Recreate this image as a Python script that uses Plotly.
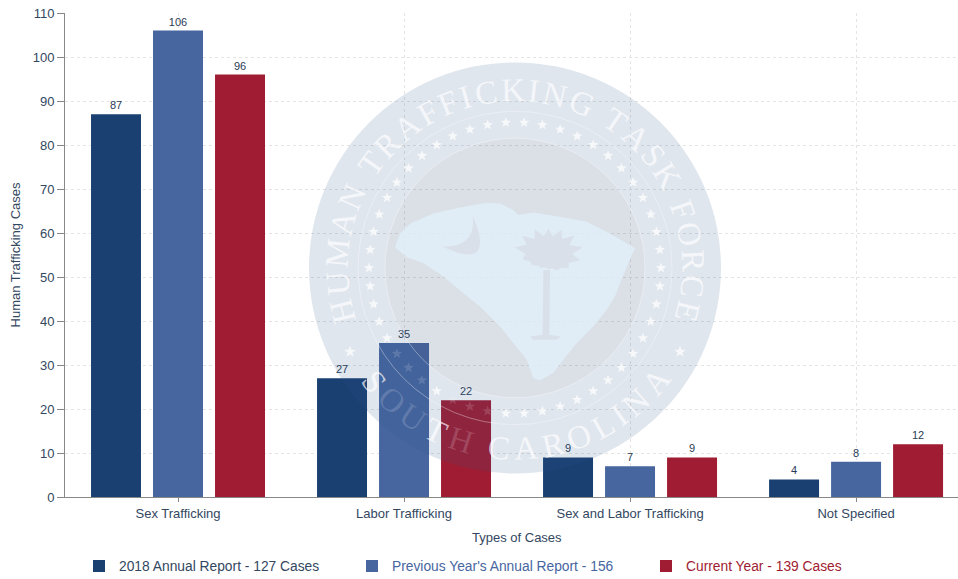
import math
import plotly.graph_objects as go

categories = ["Sex Trafficking", "Labor Trafficking", "Sex and Labor Trafficking", "Not Specified"]
report_2018 = [87, 27, 9, 4]
previous_year = [106, 35, 7, 8]
current_year = [96, 22, 9, 12]
series_names = ["2018 Annual Report - 127 Cases", "Previous Year's Annual Report - 156", "Current Year - 139 Cases"]
series_colors = ["#1a4072", "#47659f", "#a01c32"]
legend_text_colors = ["#33475f", "#47659f", "#a01c32"]
y_ticks = list(range(0, 111, 10))
seal_top = "HUMAN TRAFFICKING TASK FORCE"
seal_bottom = "SOUTH CAROLINA"

TEXT = "#33475f"
FONT = "Liberation Sans, Arial, sans-serif"
L, R, T, B = 65, 958, 12.5, 497.5
CX, CY = 515, 268
LEGEND_PX = [79, 352, 646]


def fx(x):
    return (x - L) / (R - L)


def fy(y):
    return (B - y) / (B - T)


def path_from(points):
    return "M" + "L".join(f"{fx(x):.5f},{fy(y):.5f}" for x, y in points) + "Z"


def zoom_pts(pts):
    return [(300 + x / 3, 50 + y / 3) for x, y in pts]


def circle(r, fill="rgba(0,0,0,0)", line="rgba(0,0,0,0)", w=0):
    return dict(type="circle", xref="paper", yref="paper", layer="above",
                x0=fx(CX - r), x1=fx(CX + r), y0=fy(CY + r), y1=fy(CY - r),
                fillcolor=fill, line=dict(color=line, width=w))


def poly(points, fill):
    return dict(type="path", xref="paper", yref="paper", layer="above",
                path=path_from(points), fillcolor=fill, line=dict(width=0))


def star(x, y, r):
    pts = []
    for i in range(10):
        a = math.radians(i * 36)
        rr = r if i % 2 == 0 else r * 0.42
        pts.append((x + rr * math.sin(a), y - rr * math.cos(a)))
    return pts


def bezier(p0, c, p1, n=14):
    out = []
    for i in range(n + 1):
        t = i / n
        out.append(((1 - t) ** 2 * p0[0] + 2 * t * (1 - t) * c[0] + t * t * p1[0],
                    (1 - t) ** 2 * p0[1] + 2 * t * (1 - t) * c[1] + t * t * p1[1]))
    return out


def over_bar(x, y):
    """True when a seal ornament falls on one of the Labor Trafficking bars (faded there)."""
    for left, vals in zip((318, 379, 441), (report_2018, previous_year, current_year)):
        if left - 3 <= x <= left + 53 and y >= B - vals[1] * (B - T) / 110 - 3:
            return True
    return False


TINT = "rgba(50,90,140,0.15)"
shapes = [
    circle(206, TINT),
    circle(130, "rgba(110,80,60,0.045)", "rgba(255,255,255,0.35)", 1),
    circle(157, line="rgba(255,255,255,0.35)", w=1),
]

state = zoom_pts([(285, 592), (300, 550), (330, 520), (400, 490), (480, 472), (560, 458), (600, 460),
                  (640, 480), (655, 495), (700, 487), (780, 500), (860, 515), (930, 550), (1005, 595),
                  (985, 640), (960, 700), (945, 740), (920, 780), (880, 830), (830, 880), (790, 930),
                  (760, 970), (720, 992), (700, 985), (680, 930), (640, 880), (600, 830), (540, 770),
                  (490, 730), (430, 680), (370, 640), (320, 622)])
shapes.append(poly(state, "rgba(225,238,248,0.85)"))

GREY = "rgba(214,220,228,0.7)"
crescent = bezier((518, 497), (590, 665), (428, 590)) + bezier((428, 590), (530, 590), (518, 497))
shapes.append(poly(zoom_pts(crescent), GREY))
trunk = zoom_pts([(730, 660), (750, 660), (748, 855), (782, 860), (770, 870), (700, 870), (690, 860), (728, 855)])
shapes.append(poly(trunk, GREY))
frond_lengths = [85, 62, 92, 66, 100, 70, 105, 72, 98, 68, 78, 60, 62, 50, 52, 46, 52, 50, 62, 60, 80, 68, 104, 72, 100, 66, 94, 62]
palm = []
for i, rr in enumerate(frond_lengths):
    a = math.radians(i * 360 / len(frond_lengths))
    palm.append((745 + rr * math.sin(a), 612 - rr * 0.88 * math.cos(a)))
shapes.append(poly(zoom_pts(palm), GREY))

n_stars = 50
for i in range(n_stars):
    a = math.radians(i * 360 / n_stars + 3.6)
    sx, sy = CX + 146 * math.sin(a), CY - 146 * math.cos(a)
    shapes.append(poly(star(sx, sy, 5.5), "rgba(255,255,255,0.14)" if over_bar(sx, sy) else "rgba(255,255,255,0.72)"))
for sign in (-1, 1):
    shapes.append(poly(star(CX + sign * 165, 352, 6), "rgba(255,255,255,0.72)"))

WIDTHS = {"H": .722, "U": .722, "M": .889, "A": .722, "N": .722, " ": .25, "T": .611, "R": .667, "F": .556,
          "I": .333, "C": .667, "K": .722, "G": .722, "S": .556, "O": .722, "E": .611, "L": .611}


def arc_angles(text, span):
    pos, total = [], 0
    for ch in text:
        w = WIDTHS[ch] + 0.12
        pos.append(total + w / 2)
        total += w
    first, last = pos[0], pos[-1]
    return [-span + 2 * span * (p - first) / (last - first) for p in pos]


annotations = []


def letter(ch, x, y, angle):
    alpha = 0.16 if over_bar(x, y) else 0.68
    annotations.append(dict(text=ch, xref="paper", yref="paper", x=fx(x), y=fy(y), xanchor="center",
                            yanchor="middle", textangle=angle, showarrow=False,
                            font=dict(family="Liberation Serif, serif", size=33,
                                      color=f"rgba(255,255,255,{alpha})")))


for ch, ang in zip(seal_top, arc_angles(seal_top, 104)):
    if ch != " ":
        a = math.radians(ang)
        letter(ch, CX + 178 * math.sin(a), CY - 178 * math.cos(a), ang)
for ch, ang in zip(seal_bottom, arc_angles(seal_bottom, 51)):
    if ch != " ":
        a = math.radians(ang)
        letter(ch, CX + 181 * math.sin(a), CY + 181 * math.cos(a), -ang)

annotations.append(dict(text="Types of Cases", xref="paper", yref="paper", x=fx(517), y=fy(538),
                        xanchor="center", yanchor="middle", showarrow=False,
                        font=dict(family=FONT, size=13, color=TEXT)))

fig = go.Figure()
legend_ids = ["legend", "legend2", "legend3"]
label_font = dict(family=FONT, size=11, color="#2a3b55")
for name, vals, col, tcol, lid in zip(series_names, [report_2018, previous_year, current_year],
                                      series_colors, legend_text_colors, legend_ids):
    fig.add_trace(go.Bar(x=categories, y=vals, marker=dict(color=col, line=dict(width=0)),
                         name=f'<span style="color:{tcol}">{name}</span>', legend=lid,
                         text=vals, textposition="outside", cliponaxis=False,
                         textfont=label_font, outsidetextfont=label_font))

legend_layout = {}
for lid, px in zip(legend_ids, LEGEND_PX):
    legend_layout[lid] = dict(orientation="h", xref="container", yref="container", x=px / 958, xanchor="left",
                              y=(579 - 566) / 579, yanchor="middle",
                              font=dict(size=13.8, family=FONT), bgcolor="rgba(0,0,0,0)")

fig.update_layout(
    width=958, height=579, autosize=False,
    margin=dict(l=L, r=958 - R, t=T, b=579 - B),
    paper_bgcolor="white", plot_bgcolor="white",
    barmode="group", bargap=0.177, bargroupgap=0.194,
    font=dict(family=FONT, size=13, color=TEXT),
    xaxis=dict(range=[-0.5, 3.451], showgrid=True, gridcolor="#e4e4e4", griddash="dot", gridwidth=1,
               showline=True, linecolor="#888888", ticks="outside", ticklen=4, tickcolor="#888888",
               tickfont=dict(size=13, color=TEXT), fixedrange=True),
    yaxis=dict(range=[0, 110], tickvals=y_ticks, showgrid=True, gridcolor="#e4e4e4", griddash="dot", gridwidth=1,
               showline=True, linecolor="#888888", ticks="outside", ticklen=7, tickcolor="#888888",
               zeroline=False, tickfont=dict(size=13, color=TEXT), fixedrange=True,
               title=dict(text="Human Trafficking Cases", font=dict(size=13, color=TEXT), standoff=9)),
    shapes=shapes, annotations=annotations,
    showlegend=True,
    **legend_layout,
)
fig.write_html("out.html", post_script="document.body.style.margin='0';", config={"displayModeBar": False})
